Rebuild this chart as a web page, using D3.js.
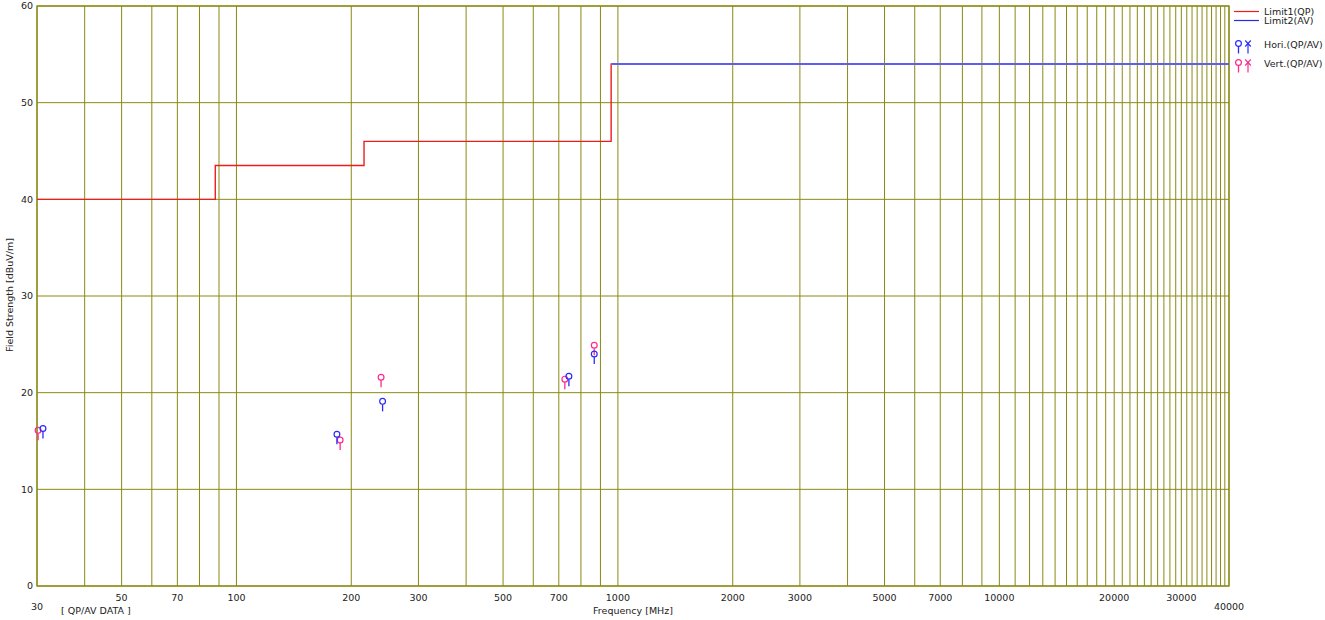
<!DOCTYPE html>
<html>
<head>
<meta charset="utf-8">
<script src="https://cdn.jsdelivr.net/npm/d3@7"></script>
<style>
  html, body { margin: 0; padding: 0; background: #fff; }
  svg { display: block; font-family: "DejaVu Sans", Verdana, sans-serif; }
</style>
</head>
<body>
<svg id="chart" width="1325" height="620"></svg>
<script>
// Measured points (frequency in MHz, QP level in dBuV/m)
const horiFreq = [31.1, 183.4, 241.6, 744, 867];
const horiQP   = [16.3, 15.7, 19.1, 21.7, 24.0];
const vertFreq = [30.2, 187, 239.4, 726, 867];
const vertQP   = [16.1, 15.1, 21.6, 21.4, 24.9];

// Limit lines (step-after breakpoints)
const limit1Freq = [30, 88, 216, 960, 40000];
const limit1Val  = [40, 43.5, 46, 54, 54];
const limit2Freq = [960, 40000];
const limit2Val  = [54, 54];

// Axis tick labels
const xTicksUpper = [50, 70, 100, 200, 300, 500, 700, 1000, 2000, 3000, 5000, 7000, 10000, 20000, 30000];
const xTicksLower = [30, 40000];
const yTicks = [0, 10, 20, 30, 40, 50, 60];

const svg = d3.select("#chart");
const x = d3.scaleLog().domain([30, 40000]).range([37, 1229]);
const y = d3.scaleLinear().domain([0, 60]).range([586, 6]);

const gridColor = "#8a8a14";
const textColor = "#222";
const pink = "#ff2a8a";
const blue = "#2a2aff";
const red = "#f01c1c";
const limBlue = "#2a2ae6";
const fs = 9.5;

// Vertical grid: 1..9 multiples of each decade up to 10 GHz,
// then every 1 GHz up to 40 GHz
const gridFreqs = [];
for (let dec = 10; dec <= 1000; dec *= 10) {
  for (let m = 1; m <= 9; m++) {
    const f = m * dec;
    if (f >= 30) gridFreqs.push(f);
  }
}
for (let f = 10000; f <= 40000; f += 1000) gridFreqs.push(f);

svg.append("g").selectAll("line").data(gridFreqs).join("line")
  .attr("x1", d => x(d)).attr("x2", d => x(d))
  .attr("y1", y(60)).attr("y2", y(0))
  .attr("stroke", gridColor).attr("stroke-width", 1);

svg.append("g").selectAll("line").data(yTicks).join("line")
  .attr("x1", x(30)).attr("x2", x(40000))
  .attr("y1", d => y(d)).attr("y2", d => y(d))
  .attr("stroke", gridColor).attr("stroke-width", 1);

// Plot frame
svg.append("rect")
  .attr("x", x(30)).attr("y", y(60))
  .attr("width", x(40000) - x(30)).attr("height", y(0) - y(60))
  .attr("fill", "none").attr("stroke", gridColor).attr("stroke-width", 1.3);

// Y tick labels
svg.append("g").selectAll("text").data(yTicks).join("text")
  .attr("x", 33).attr("y", d => y(d) + 3.4)
  .attr("text-anchor", "end").attr("font-size", fs).attr("fill", textColor)
  .text(d => d);

// X tick labels
svg.append("g").selectAll("text").data(xTicksUpper).join("text")
  .attr("x", d => x(d)).attr("y", 601)
  .attr("text-anchor", "middle").attr("font-size", fs).attr("fill", textColor)
  .text(d => d);
svg.append("g").selectAll("text").data(xTicksLower).join("text")
  .attr("x", d => x(d)).attr("y", 610)
  .attr("text-anchor", "middle").attr("font-size", fs).attr("fill", textColor)
  .text(d => d);

// Axis titles
svg.append("text").attr("x", 61).attr("y", 614)
  .attr("font-size", fs).attr("fill", textColor).text("[ QP/AV DATA ]");
svg.append("text").attr("x", 633).attr("y", 614)
  .attr("text-anchor", "middle").attr("font-size", fs).attr("fill", textColor)
  .text("Frequency [MHz]");
svg.append("text")
  .attr("transform", "translate(13,295) rotate(-90)")
  .attr("text-anchor", "middle").attr("font-size", fs).attr("fill", textColor)
  .text("Field Strength [dBuV/m]");

// Limit lines; the AV line sits on a thin white underlay so it reads
// as pure blue where it coincides with the QP line
const stepLine = d3.line().x(d => x(d[0])).y(d => y(d[1])).curve(d3.curveStepAfter);
svg.append("path")
  .attr("d", stepLine(d3.zip(limit1Freq, limit1Val)))
  .attr("fill", "none").attr("stroke", red).attr("stroke-width", 1.4);
const av = stepLine(d3.zip(limit2Freq, limit2Val));
svg.append("path").attr("d", av)
  .attr("fill", "none").attr("stroke", "#fff").attr("stroke-width", 2.2);
svg.append("path").attr("d", av)
  .attr("fill", "none").attr("stroke", limBlue).attr("stroke-width", 1.4);

// QP marker: small open circle on a short stem
function qpMarker(g, cx, cy, color) {
  g.append("line").attr("x1", cx).attr("x2", cx).attr("y1", cy + 2.9).attr("y2", cy + 10)
    .attr("stroke", color).attr("stroke-width", 1.3);
  g.append("circle").attr("cx", cx).attr("cy", cy).attr("r", 2.9)
    .attr("fill", "none").attr("stroke", color).attr("stroke-width", 1.2);
}
// AV marker: cross on a short stem
function avMarker(g, cx, cy, color) {
  g.append("line").attr("x1", cx).attr("x2", cx).attr("y1", cy).attr("y2", cy + 10)
    .attr("stroke", color).attr("stroke-width", 1.2);
  g.append("path").attr("d", `M${cx - 2.8},${cy - 3}L${cx + 2.8},${cy + 3}M${cx + 2.8},${cy - 3}L${cx - 2.8},${cy + 3}`)
    .attr("stroke", color).attr("stroke-width", 1.1).attr("fill", "none");
}

const pts = svg.append("g");
d3.zip(vertFreq, vertQP).forEach(([f, v]) => qpMarker(pts, x(f), y(v), pink));
d3.zip(horiFreq, horiQP).forEach(([f, v]) => qpMarker(pts, x(f), y(v), blue));

// Legend
const lg = svg.append("g");
lg.append("line").attr("x1", 1234).attr("x2", 1259).attr("y1", 11.5).attr("y2", 11.5)
  .attr("stroke", red).attr("stroke-width", 1.2);
lg.append("line").attr("x1", 1234).attr("x2", 1259).attr("y1", 20.5).attr("y2", 20.5)
  .attr("stroke", limBlue).attr("stroke-width", 1.2);
lg.append("text").attr("x", 1264).attr("y", 15).attr("font-size", fs).attr("fill", textColor).text("Limit1(QP)");
lg.append("text").attr("x", 1264).attr("y", 24).attr("font-size", fs).attr("fill", textColor).text("Limit2(AV)");
qpMarker(lg, 1238.5, 43.5, blue);
avMarker(lg, 1248, 43.5, blue);
qpMarker(lg, 1238.5, 62.5, pink);
avMarker(lg, 1248, 62.5, pink);
lg.append("text").attr("x", 1264).attr("y", 48).attr("font-size", fs).attr("fill", textColor).text("Hori.(QP/AV)");
lg.append("text").attr("x", 1264).attr("y", 67).attr("font-size", fs).attr("fill", textColor).text("Vert.(QP/AV)");
</script>
</body>
</html>
